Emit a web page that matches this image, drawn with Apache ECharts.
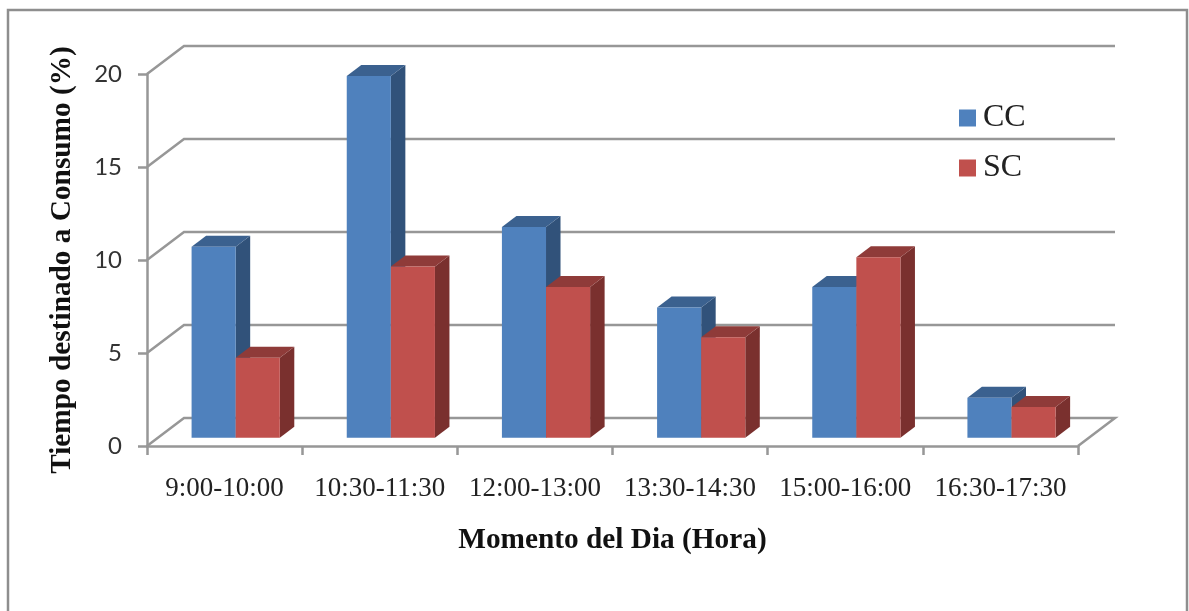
<!DOCTYPE html>
<html>
<head>
<meta charset="utf-8">
<style>html,body{margin:0;padding:0;background:#fff}#c{width:1189px;height:611px}</style>
<script src="https://cdn.jsdelivr.net/npm/echarts@6/dist/echarts.min.js"></script>
</head>
<body>
<div id="c"></div>
<script>
const categories = ['9:00-10:00','10:30-11:30','12:00-13:00','13:30-14:30','15:00-16:00','16:30-17:30'];
const cc = [10.27, 19.45, 11.33, 7.0, 8.1, 2.15];
const sc = [4.3, 9.2, 8.1, 5.4, 9.7, 1.65];
const yTicks = [0, 5, 10, 15, 20];

const wallDX = 37, wallDY = 28;      // oblique depth of the chart box
const barDX = 14.5, barDY = 11;      // oblique depth of a bar
const lift = 8.3, shiftX = 11.1;     // bars stand inside the floor
const barW = 44.1;
const gridColor = '#979797';
const serif = '"Liberation Serif"';

function wallItem(params, api) {
  const v = api.value(1), y = api.coord([0, v])[1], cs = params.coordSys;
  const l = cs.x, r = cs.x + cs.width;
  const pts = v === 0
    ? [[l, y], [l + wallDX, y - wallDY], [r + wallDX, y - wallDY], [r, y]]
    : [[l, y], [l + wallDX, y - wallDY], [r + wallDX, y - wallDY]];
  return { type: 'polyline', shape: { points: pts },
    style: { stroke: gridColor, lineWidth: 2.5, fill: null } };
}
function barItem(which, front, top, side) {
  return function (params, api) {
    const i = api.value(0), v = api.value(1);
    const c = api.coord([i, v]), b = api.coord([i, 0]);
    const x0 = c[0] + shiftX + (which === 0 ? -barW : 0), x1 = x0 + barW;
    const yT = c[1] - lift, yB = b[1] - lift;
    const poly = (pts, col) => ({ type: 'polygon', shape: { points: pts }, style: { fill: col } });
    return { type: 'group', children: [
      poly([[x1, yT], [x1 + barDX, yT - barDY], [x1 + barDX, yB - barDY], [x1, yB]], side),
      poly([[x0, yT], [x0 + barDX, yT - barDY], [x1 + barDX, yT - barDY], [x1, yT]], top),
      { type: 'rect', shape: { x: x0, y: yT, width: barW, height: yB - yT }, style: { fill: front } }
    ] };
  };
}

const chart = echarts.init(document.getElementById('c'), null, { renderer: 'canvas' });
chart.setOption({
  animation: false,
  backgroundColor: '#fff',
  graphic: [{ type: 'rect', silent: true, z: -10,
    shape: { x: 8, y: 10, width: 1179, height: 640 },
    style: { fill: 'none', stroke: '#8e8e8e', lineWidth: 2.5 } }],
  grid: { left: 147, right: 111, top: 74, bottom: 165 },
  legend: {
    data: ['CC', 'SC'], orient: 'vertical', left: 954, top: 97, itemWidth: 17, itemHeight: 17, itemGap: 18,
    icon: 'rect', selectedMode: false,
    textStyle: { fontFamily: serif, fontSize: 32, color: '#222', padding: [0, 0, 0, 2] }
  },
  xAxis: {
    type: 'category', data: categories,
    name: 'Momento del Dia (Hora)', nameLocation: 'middle', nameGap: 80,
    nameTextStyle: { fontFamily: serif, fontWeight: 'bold', fontSize: 29.3, color: '#111' },
    axisLine: { lineStyle: { color: gridColor, width: 2.5 } },
    axisTick: { show: true, length: 9, lineStyle: { color: gridColor, width: 2.5 } },
    axisLabel: { fontFamily: serif, fontSize: 27, color: '#222', margin: 29, interval: 0 },
    splitLine: { show: false }
  },
  yAxis: {
    type: 'value', min: 0, max: 20, interval: 5,
    name: 'Tiempo destinado a Consumo (%)', nameLocation: 'middle', nameGap: 70,
    nameTextStyle: { fontFamily: serif, fontWeight: 'bold', fontSize: 29.3, color: '#111' },
    axisLine: { show: true, lineStyle: { color: gridColor, width: 2.5 } },
    axisTick: { show: true, length: 9, lineStyle: { color: gridColor, width: 2.5 } },
    axisLabel: { fontFamily: 'Lato', fontSize: 24, color: '#333', margin: 25 },
    splitLine: { show: false }
  },
  series: [
    { type: 'custom', name: 'walls', z: 1, silent: true, renderItem: wallItem,
      encode: { x: 0, y: 1 }, data: yTicks.map(v => [0, v]) },
    { type: 'custom', name: 'CC', z: 2, renderItem: barItem(0, '#4F81BD', '#3B618F', '#31527A'),
      itemStyle: { color: '#4F81BD' }, encode: { x: 0, y: 1 }, data: cc.map((v, i) => [i, v]) },
    { type: 'custom', name: 'SC', z: 3, renderItem: barItem(1, '#C0504D', '#8F3B39', '#7A302E'),
      itemStyle: { color: '#C0504D' }, encode: { x: 0, y: 1 }, data: sc.map((v, i) => [i, v]) }
  ]
});
</script>
</body>
</html>
